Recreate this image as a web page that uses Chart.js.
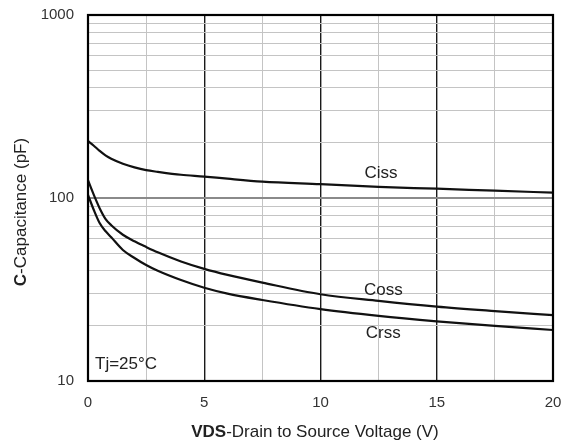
<!DOCTYPE html>
<html>
<head>
<meta charset="utf-8">
<script src="https://cdn.jsdelivr.net/npm/chart.js@4/dist/chart.umd.min.js"></script>
<style>
html,body{margin:0;padding:0;background:#fff;}
canvas{display:block;}
</style>
</head>
<body>
<canvas id="c" width="564" height="443"></canvas>
<script>
// Data
const vds  = [0, 0.25, 0.5, 0.75, 1, 1.5, 2, 2.5, 3, 4, 5, 6, 7.5, 10, 12.5, 15, 17.5, 20];
const ciss = [205, 193, 181, 171, 164, 154, 147, 142, 139, 134, 131, 127.5, 123, 119, 115, 112.4, 109.6, 107];
const coss = [125, 104, 88, 77, 71, 63, 58, 54, 50.5, 45, 41, 38, 34.5, 29.8, 27.4, 25.5, 24.1, 22.9];
const crss = [104, 86, 73, 66, 61, 52, 47, 43, 40, 35.6, 32.3, 30, 27.7, 24.7, 22.7, 21.2, 20, 19];
const xTickLabels = [0, 5, 10, 15, 20];
const yTickValues = [10,20,30,40,50,60,70,80,90,100,200,300,400,500,600,700,800,900,1000];
const yTickLabels = [10, 100, 1000];
const seriesNames = ['Ciss', 'Coss', 'Crss'];
const seriesLabelPos = [[12.6, 136], [12.7, 31.4], [12.7, 18.3]]; // data coords for curve labels
const noteText = 'Tj=25°C';

const FONT = '"Liberation Sans", Arial, Helvetica, sans-serif';
const toPts = ys => vds.map((x, i) => ({x: x, y: ys[i]}));

const mkDs = (name, ys) => ({
  label: name, data: toPts(ys), borderColor: '#111', borderWidth: 2.2,
  pointRadius: 0, fill: false, cubicInterpolationMode: 'monotone'
});

const decor = {
  id: 'decor',
  afterDraw(chart) {
    const {ctx, chartArea: a, scales: {x, y}} = chart;
    ctx.save();
    // frame
    ctx.strokeStyle = '#000';
    ctx.lineWidth = 2.2;
    ctx.strokeRect(a.left, a.top, a.right - a.left, a.bottom - a.top);
    ctx.fillStyle = '#222';
    // curve labels
    ctx.font = '17px ' + FONT;
    ctx.textAlign = 'center';
    ctx.textBaseline = 'middle';
    seriesNames.forEach((n, i) => {
      const p = seriesLabelPos[i];
      ctx.fillText(n, x.getPixelForValue(p[0]), y.getPixelForValue(p[1]));
    });
    // note
    ctx.textAlign = 'left';
    ctx.fillText(noteText, a.left + 7, a.bottom - 17);
    // x title (mixed bold)
    const bold = 'VDS', rest = '-Drain to Source Voltage (V)';
    ctx.font = 'bold 17px ' + FONT;
    const wb = ctx.measureText(bold).width;
    ctx.font = '17px ' + FONT;
    const wr = ctx.measureText(rest).width;
    const cx = 315, cy = 432;
    let sx = cx - (wb + wr) / 2;
    ctx.font = 'bold 17px ' + FONT;
    ctx.fillText(bold, sx, cy);
    ctx.font = '17px ' + FONT;
    ctx.fillText(rest, sx + wb, cy);
    // y title (rotated, mixed bold)
    ctx.translate(21, 212);
    ctx.rotate(-Math.PI / 2);
    const b2 = 'C', r2 = '-Capacitance (pF)';
    ctx.font = 'bold 17px ' + FONT;
    const wb2 = ctx.measureText(b2).width;
    ctx.font = '17px ' + FONT;
    const wr2 = ctx.measureText(r2).width;
    let s2 = -(wb2 + wr2) / 2;
    ctx.font = 'bold 17px ' + FONT;
    ctx.fillText(b2, s2, 0);
    ctx.font = '17px ' + FONT;
    ctx.fillText(r2, s2 + wb2, 0);
    ctx.restore();
  }
};

new Chart(document.getElementById('c'), {
  type: 'line',
  data: { datasets: [mkDs('Ciss', ciss), mkDs('Coss', coss), mkDs('Crss', crss)] },
  options: {
    responsive: false,
    animation: false,
    layout: { autoPadding: false, padding: { top: 15, right: 11, left: 0, bottom: 0 } },
    plugins: { legend: { display: false }, tooltip: { enabled: false } },
    scales: {
      x: {
        type: 'linear', min: 0, max: 20,
        border: { display: false },
        ticks: {
          stepSize: 2.5, autoSkip: false, maxRotation: 0, padding: 13,
          color: '#333', font: { family: FONT, size: 15 },
          callback: v => xTickLabels.includes(v) ? String(v) : ''
        },
        grid: {
          drawTicks: false,
          color: c => (c.tick && c.tick.value % 5 === 0) ? '#1a1a1a' : '#c4c4c4',
          lineWidth: c => (c.tick && c.tick.value % 5 === 0) ? 1.4 : 1
        },
        afterFit: s => { s.height = 62; s.paddingLeft = 0; s.paddingRight = 0; }
      },
      y: {
        type: 'logarithmic', min: 10, max: 1000,
        border: { display: false },
        afterBuildTicks: s => { s.ticks = yTickValues.map(v => ({ value: v })); },
        ticks: {
          autoSkip: false, padding: 14,
          color: '#333', font: { family: FONT, size: 15 },
          callback: v => yTickLabels.includes(v) ? String(v) : ''
        },
        grid: {
          drawTicks: false,
          color: c => (c.tick && c.tick.value === 100) ? '#8a8a8a' : '#c4c4c4',
          lineWidth: c => (c.tick && c.tick.value === 100) ? 2 : 1
        },
        afterFit: s => { s.width = 88; s.paddingTop = 0; s.paddingBottom = 0; }
      }
    }
  },
  plugins: [decor]
});
</script>
</body>
</html>
